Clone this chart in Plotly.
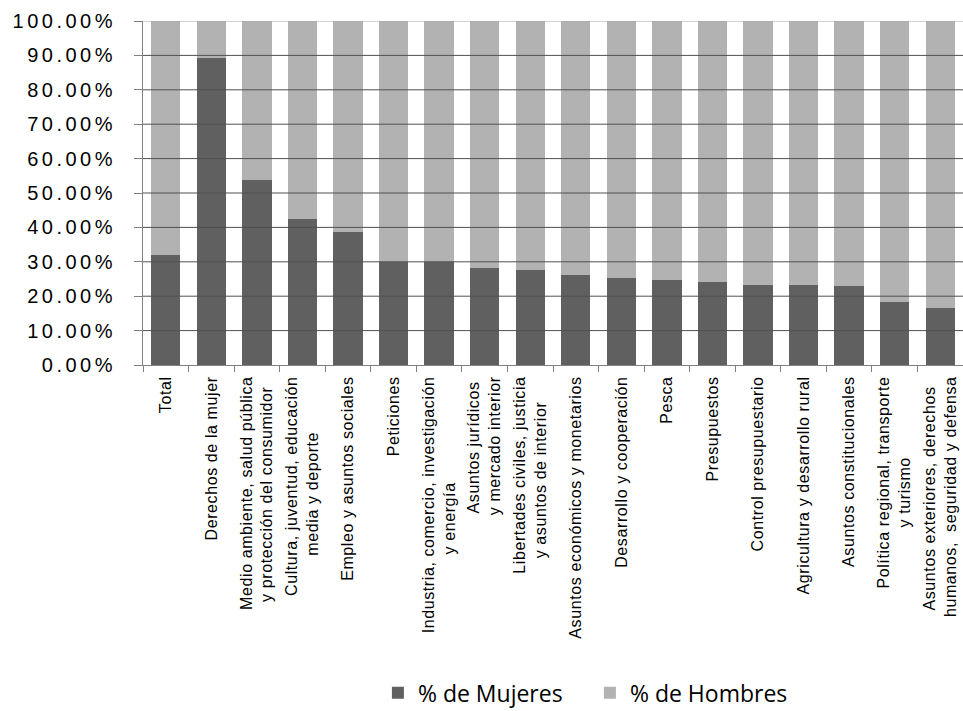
import plotly.graph_objects as go

NB = "\u00a0"

categories = [
    "Total",
    "Derechos de la mujer",
    "Medio ambiente, salud pública<br>y protección del consumidor" + NB * 2,
    "Cultura, juventud, educación<br>media y deporte" + NB * 11,
    "Empleo y asuntos sociales",
    "Peticiones",
    "Industria, comercio, investigación<br>y energía" + NB * 21,
    "Asuntos jurídicos" + NB + "<br>y mercado interior",
    "Libertades civiles, justicia<br>y asuntos de interior" + NB * 5,
    "Asuntos económicos y monetarios",
    "Desarrollo y cooperación",
    "Pesca",
    "Presupuestos",
    "Control presupuestario",
    "Agricultura y desarrollo rural",
    "Asuntos constitucionales",
    "Política regional, transporte<br>y turismo" + NB * 16,
    "Asuntos exteriores, derechos" + NB * 2 + "<br>humanos,  seguridad y defensa",
]

mujeres = [0.320, 0.892, 0.538, 0.425, 0.386, 0.299, 0.299, 0.283, 0.275,
           0.263, 0.254, 0.246, 0.240, 0.234, 0.233, 0.231, 0.182, 0.165]
hombres = [0.680, 0.108, 0.462, 0.575, 0.614, 0.701, 0.701, 0.717, 0.725,
           0.737, 0.746, 0.754, 0.760, 0.766, 0.767, 0.769, 0.818, 0.835]

y_ticks = [0.0, 0.1, 0.2, 0.3, 0.4, 0.5, 0.6, 0.7, 0.8, 0.9, 1.0]

fig = go.Figure()
fig.add_trace(go.Bar(x=categories, y=mujeres, name="% de Mujeres",
                     marker=dict(color="#606060", line=dict(width=0))))
fig.add_trace(go.Bar(x=categories, y=hombres, name="% de Hombres",
                     marker=dict(color="#b2b2b2", line=dict(width=0))))

for v in y_ticks[1:-1]:
    fig.add_hline(y=v, line=dict(color="#505050", width=1), layer="above")
fig.add_hline(y=y_ticks[-1], line=dict(color="#a8a8a8", width=1), layer="above")

fig.update_layout(
    barmode="stack",
    bargap=0.357,
    width=963, height=711,
    margin=dict(l=143, r=0, t=21, b=346, autoexpand=False),
    plot_bgcolor="white", paper_bgcolor="white",
    font=dict(family="Liberation Sans, Arial, sans-serif", color="#000000"),
    showlegend=True,
    legend=dict(orientation="h", x=0.545, xanchor="center", y=-0.953, yanchor="middle",
                font=dict(family="Open Sans, sans-serif", size=23, color="#000000"),
                entrywidth=167, traceorder="normal"),
    xaxis=dict(
        tickangle=-90, tickfont=dict(size=16),
        ticks="outside", tickson="boundaries", ticklen=6, tickcolor="#808080",
        showline=True, linecolor="#808080", linewidth=1,
        showgrid=False, automargin=False, ticklabelstandoff=4,
    ),
    yaxis=dict(
        range=[0, 1], tickvals=y_ticks, tickformat=".2%",
        tickfont=dict(size=20),
        ticks="outside", ticklen=8, tickcolor="#808080",
        showline=True, linecolor="#808080", linewidth=1,
        showgrid=False, zeroline=False, automargin=False, ticklabelstandoff=14,
    ),
)

post = """
document.body.style.margin = '0';
document.querySelectorAll('.ytick text').forEach(function(t){ t.style.letterSpacing = '3.5px'; });
document.querySelectorAll('.xtick text').forEach(function(t){ t.style.letterSpacing = '0.6px'; });
"""

fig.write_html("out.html", post_script=post, config={"displayModeBar": False})
